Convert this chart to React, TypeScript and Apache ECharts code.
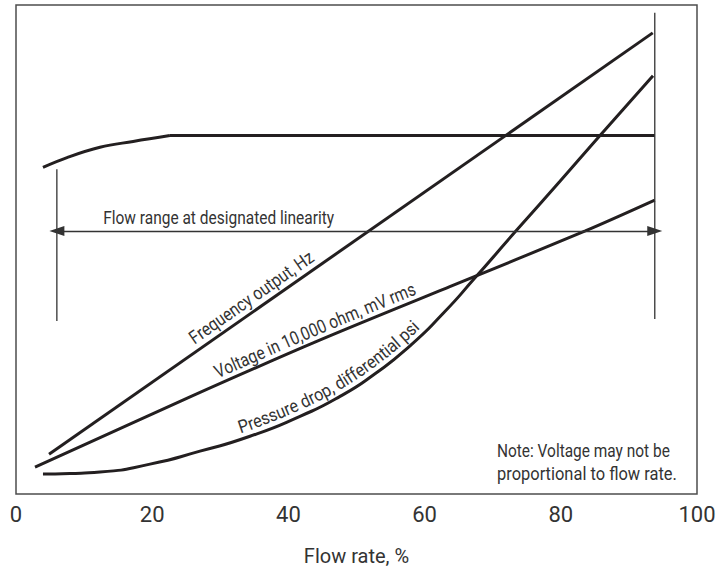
import React, { useEffect, useRef } from "react";
import * as echarts from "echarts";

const FONT = "Roboto, 'Liberation Sans', sans-serif";
const INK = "#231f20";
const TEXT = "#333333";

// x: flow rate %, y: relative output (hidden axis 0–100)
const xTickValues = [0, 20, 40, 60, 80, 100];
const flatCurve = [[3.96, 66.8], [7.49, 68.8], [12.33, 70.9], [17.2, 72.1], [22.6, 73.3]];
const flatLine = [[22.6, 73.3], [93.8, 73.3]];
const frequency = [[4.85, 8.15], [93.5, 94.3]];
const voltage = [[2.79, 5.5], [25.8, 20.0], [44.5, 31.4], [63.7, 42.4], [83.6, 53.8], [93.8, 60.1]];
const pressure = [
  [3.96, 4.07], [7.93, 4.18], [12.33, 4.48], [19.68, 6.11], [27.02, 8.76], [34.36, 11.81],
  [41.7, 15.89], [47.58, 19.96], [52.72, 24.6], [57.86, 30.3], [62.7, 36.9], [67.4, 44.2],
  [73.27, 53.56], [79.88, 63.95], [85.76, 73.32], [93.54, 85.54],
];
const leftBar = [[6.0, 66.4], [6.0, 35.4]];
const rightBar = [[93.8, 98.4], [93.8, 35.8]];
const rangeArrow = [[6.0, 53.8], [93.8, 53.8]];

const rangeLabel = "Flow range at designated linearity";
const freqLabel = "Frequency output, Hz";
const voltLabel = "Voltage in 10,000 ohm, mV rms";
const pressLabel = "Pressure drop, differential psi";
const noteLines = ["Note: Voltage may not be", "proportional to flow rate."];

const measureCtx = () => document.createElement("canvas").getContext("2d")!;
function measure(text: string, size: number) {
  const ctx = measureCtx();
  ctx.font = `${size}px ${FONT}`;
  return ctx.measureText(text).width;
}

function catmull(pts: number[][], steps = 20) {
  const out: number[][] = [];
  for (let i = 0; i < pts.length - 1; i++) {
    const p0 = pts[i - 1] || pts[i];
    const p1 = pts[i];
    const p2 = pts[i + 1];
    const p3 = pts[i + 2] || pts[i + 1];
    for (let k = 0; k < steps; k++) {
      const t = k / steps;
      const t2 = t * t, t3 = t2 * t;
      const f = (a: number, b: number, c: number, d: number) =>
        0.5 * (2 * b + (-a + c) * t + (2 * a - 5 * b + 4 * c - d) * t2 + (-a + 3 * b - 3 * c + d) * t3);
      out.push([f(p0[0], p1[0], p2[0], p3[0]), f(p0[1], p1[1], p2[1], p3[1])]);
    }
  }
  out.push(pts[pts.length - 1]);
  return out;
}

function textOnCurve(
  chart: echarts.ECharts, data: number[][], text: string, startX: number,
  offset: number, size: number, targetLen: number
) {
  const px = data.map((p) => chart.convertToPixel({ gridIndex: 0 }, p) as number[]);
  const dense = px.length > 2 ? catmull(px) : px;
  const cum = [0];
  for (let i = 1; i < dense.length; i++) {
    cum.push(cum[i - 1] + Math.hypot(dense[i][0] - dense[i - 1][0], dense[i][1] - dense[i - 1][1]));
  }
  const at = (s: number) => {
    let i = 1;
    while (i < cum.length - 1 && cum[i] < s) i++;
    const seg = cum[i] - cum[i - 1] || 1;
    const t = (s - cum[i - 1]) / seg;
    const a = dense[i - 1], b = dense[i];
    const tx = (b[0] - a[0]) / seg, ty = (b[1] - a[1]) / seg;
    return { x: a[0] + (b[0] - a[0]) * t, y: a[1] + (b[1] - a[1]) * t, tx, ty };
  };
  let s = 0;
  while (s < cum[cum.length - 1] && at(s).x < startX) s += 0.5;
  const ctx = measureCtx();
  ctx.font = `${size}px ${FONT}`;
  const sx = Math.min(1, targetLen / ctx.measureText(text).width);
  const els: any[] = [];
  for (const ch of text) {
    const w = ctx.measureText(ch).width * sx;
    const p = at(s + w / 2);
    const nx = p.ty, ny = -p.tx;
    els.push({
      type: "text",
      x: p.x + nx * offset,
      y: p.y + ny * offset,
      rotation: -Math.atan2(p.ty, p.tx),
      scaleX: sx,
      silent: true,
      style: { text: ch, fontSize: size, fontFamily: FONT, fill: TEXT, align: "center", verticalAlign: "middle" },
    });
    s += w;
  }
  return els;
}

function plainText(x: number, y: number, text: string, size: number, targetLen: number) {
  const sx = Math.min(1, targetLen / measure(text, size));
  return {
    type: "text",
    x,
    y,
    scaleX: sx,
    silent: true,
    style: { text, fontSize: size, fontFamily: FONT, fill: TEXT, align: "left", verticalAlign: "middle" },
  };
}

const lineSeries = (name: string, data: number[][], smooth: boolean | number, width = 3, color = INK) => ({
  name,
  type: "line",
  data,
  smooth,
  symbol: "none",
  silent: true,
  lineStyle: { width, color, cap: "butt" },
  z: 3,
});

export default function App() {
  const ref = useRef<HTMLDivElement>(null);
  useEffect(() => {
    document.body.style.margin = "0";
    const chart = echarts.init(ref.current!, undefined, { renderer: "svg" });
    chart.setOption({
      animation: false,
      backgroundColor: "#ffffff",
      grid: { left: 16, right: 30, top: 5, bottom: 75, show: true, borderColor: "#4d4d4d", borderWidth: 1.5 },
      xAxis: {
        type: "value",
        min: xTickValues[0],
        max: xTickValues[xTickValues.length - 1],
        interval: xTickValues[1] - xTickValues[0],
        axisLine: { show: false },
        axisTick: { show: false },
        splitLine: { show: false },
        axisLabel: { fontSize: 22, color: TEXT, fontFamily: FONT, margin: 9 },
        name: "Flow rate, %",
        nameLocation: "middle",
        nameGap: 52,
        nameTextStyle: { fontSize: 20, color: TEXT, fontFamily: FONT },
      },
      yAxis: { type: "value", min: 0, max: 100, show: false },
      series: [
        lineSeries("flatCurve", flatCurve, 0.4),
        lineSeries("flatLine", flatLine, false),
        lineSeries("frequency", frequency, false),
        lineSeries("voltage", voltage, 0.3),
        lineSeries("pressure", pressure, 0.6),
        lineSeries("leftBar", leftBar, false, 1.3, "#333"),
        lineSeries("rightBar", rightBar, false, 1.3, "#333"),
        {
          name: "range",
          type: "line",
          data: [],
          symbol: "none",
          markLine: {
            silent: true,
            symbol: ["triangle", "triangle"],
            symbolSize: [10, 15],
            label: { show: false },
            lineStyle: { type: "solid", width: 1.3, color: "#333" },
            data: [[{ coord: rangeArrow[0] }, { coord: rangeArrow[1] }]],
          },
        },
      ],
    });

    const rangePos = chart.convertToPixel({ gridIndex: 0 }, [12.8, 56.6]) as number[];
    const graphics: any[] = [
      plainText(rangePos[0], rangePos[1], rangeLabel, 19, 231),
      plainText(497, 450, noteLines[0], 18.5, 173),
      plainText(497, 474, noteLines[1], 18.5, 173 * 1.04),
      ...textOnCurve(chart, frequency, freqLabel, 198, 13, 18.5, 147),
      ...textOnCurve(chart, voltage, voltLabel, 220, 12, 18.5, 216),
      ...textOnCurve(chart, pressure, pressLabel, 242, 12, 18, 212),
    ];
    chart.setOption({ graphic: graphics });
    return () => chart.dispose();
  }, []);
  return <div ref={ref} style={{ width: 727, height: 571 }} />;
}
